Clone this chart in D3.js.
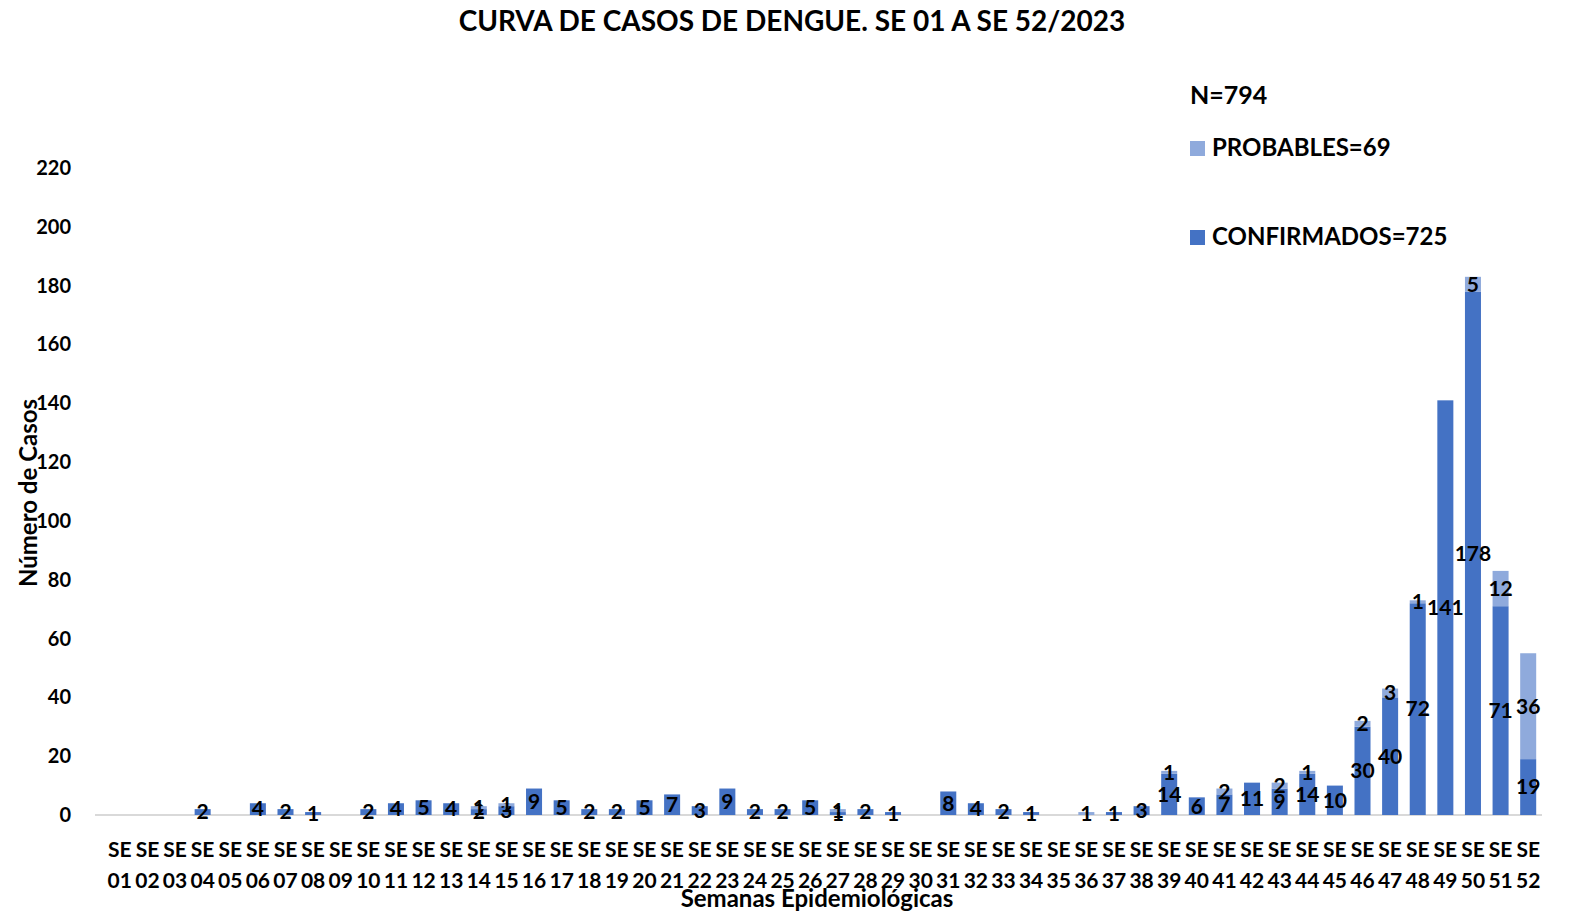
<!DOCTYPE html>
<html>
<head>
<meta charset="utf-8">
<script src="https://cdn.jsdelivr.net/npm/d3@7"></script>
<style>
    body { margin: 0; background: #fff; }
    svg text { font-family: Lato, "Noto Sans", sans-serif; font-weight: bold; fill: #000; }
</style>
</head>
<body>
<div id="chart"></div>
<script>
// weeks, confirmed and probable cases per week
const weeks = d3.range(1, 53).map(d => String(d).padStart(2, '0'));
const confirmados = [0,0,0,2,0,4,2,1,0,2,4,5,4,2,3,9,5,2,2,5,7,3,9,2,2,5,1,2,1,0,
    8,4,2,1,0,0,1,3,14,6,7,11,9,14,10,30,40,72,141,178,71,19];
const probables = [0,0,0,0,0,0,0,0,0,0,0,0,0,1,1,0,0,0,0,0,0,0,0,0,0,0,1,0,0,0,
    0,0,0,0,0,1,0,0,1,0,2,0,2,1,0,2,3,1,0,5,12,36];
const yTicks = d3.range(0, 221, 20);
const seriesNames = ['PROBABLES', 'CONFIRMADOS'];
const colors = {CONFIRMADOS: '#4472C4', PROBABLES: '#8FAADC'};

const width = 1576, height = 913;
const svg = d3.select('#chart').append('svg')
    .attr('width', width).attr('height', height);

const x = d3.scaleBand().domain(weeks).range([106, 1542]).paddingInner(0.42).paddingOuter(0.21);
const y = d3.scaleLinear().domain([0, 220]).range([815, 168]);

// title
svg.append('text').attr('x', 792).attr('y', 31).attr('text-anchor', 'middle')
    .style('font-size', '28px').text('CURVA DE CASOS DE DENGUE. SE 01 A SE 52/2023');

// y tick labels
svg.append('g').selectAll('text').data(yTicks).enter().append('text')
    .attr('x', 71).attr('y', d => y(d)).attr('dy', '0.35em')
    .attr('text-anchor', 'end').style('font-size', '20px').text(d => d);

// baseline
svg.append('line').attr('x1', 95).attr('x2', 1542).attr('y1', y(0)).attr('y2', y(0))
    .attr('stroke', '#d9d9d9').attr('stroke-width', 2);

// stacked bars
const rows = weeks.map((w, i) => ({week: w, CONFIRMADOS: confirmados[i], PROBABLES: probables[i]}));
const stack = d3.stack().keys(['CONFIRMADOS', 'PROBABLES'])(rows);

const layers = svg.append('g').selectAll('g').data(stack).enter().append('g')
    .attr('fill', d => colors[d.key]);
layers.selectAll('rect').data(d => d).enter().append('rect')
    .attr('x', d => x(d.data.week))
    .attr('width', x.bandwidth())
    .attr('y', d => y(d[1]))
    .attr('height', d => y(d[0]) - y(d[1]));

// data labels, centred in each segment
layers.selectAll('text').data(d => d.filter(s => s[1] - s[0] > 0)).enter().append('text')
    .attr('x', d => x(d.data.week) + x.bandwidth() / 2)
    .attr('y', d => y((d[0] + d[1]) / 2))
    .attr('dy', '0.35em').attr('text-anchor', 'middle')
    .style('font-size', '21px')
    .text(d => d[1] - d[0]);

// x tick labels, two lines
const xt = svg.append('g').selectAll('text').data(weeks).enter().append('text')
    .attr('text-anchor', 'middle').style('font-size', '21px');
xt.append('tspan').attr('x', d => x(d) + x.bandwidth() / 2).attr('y', 857).text('SE');
xt.append('tspan').attr('x', d => x(d) + x.bandwidth() / 2).attr('y', 888).text(d => d);

// axis titles
svg.append('text').attr('x', 817).attr('y', 907).attr('text-anchor', 'middle')
    .style('font-size', '24px').text('Semanas Epidemiológicas');
svg.append('text').attr('transform', 'translate(37,493) rotate(-90)')
    .attr('text-anchor', 'middle').style('font-size', '24px').text('Número de Casos');

// legend
const totals = {CONFIRMADOS: d3.sum(confirmados), PROBABLES: d3.sum(probables)};
svg.append('text').attr('x', 1190).attr('y', 104).style('font-size', '25px')
    .text('N=' + (totals.CONFIRMADOS + totals.PROBABLES));
const lg = svg.append('g').selectAll('g').data(seriesNames).enter().append('g')
    .attr('transform', (d, i) => 'translate(1190,' + (148 + i * 89) + ')');
lg.append('rect').attr('x', 0).attr('y', -7).attr('width', 15).attr('height', 15)
    .attr('fill', d => colors[d]);
lg.append('text').attr('x', 22).attr('dy', '0.35em').style('font-size', '24px')
    .text(d => d + '=' + totals[d]);
</script>
</body>
</html>
